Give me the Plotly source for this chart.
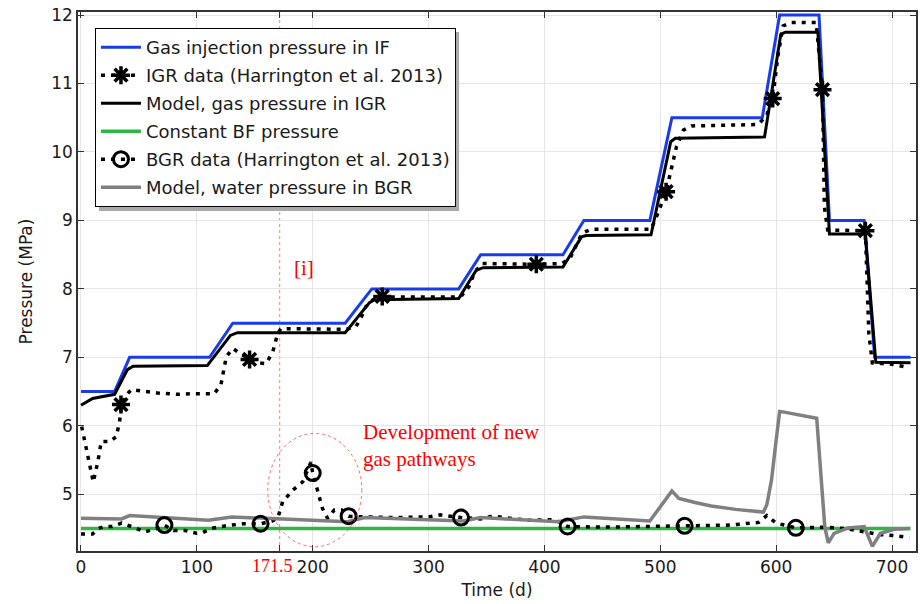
import plotly.graph_objects as go

# ---- Gas injection pressure in the injection filter (IF) ----
if_t = [0, 29, 42, 111, 131, 228, 251, 326, 345, 416, 434, 491, 510, 588, 603, 637, 646, 676, 685, 716]
if_p = [6.5, 6.5, 7.0, 7.0, 7.5, 7.5, 8.0, 8.0, 8.5, 8.5, 9.0, 9.0, 10.5, 10.5, 12.0, 12.0, 9.0, 9.0, 7.0, 7.0]

# ---- IGR measurements (continuous record + highlighted points) ----
igr_t = [0.6, 4.6, 7.5, 10.6, 14.6, 17.5, 24.7, 30.4, 33.3, 35, 38, 43.5, 66, 83.5, 98, 115, 120.8, 125.4,
         131, 142.6, 145.5, 152, 159.8, 165.5, 169.8, 172.6, 200, 228.6, 237.3, 241.5, 245.8, 252, 260,
         290, 323.3, 329, 334.8, 340, 346, 393, 415, 422.2, 426.6, 432.3, 440, 492, 498, 505, 514, 520,
         527, 560, 584, 591.5, 597, 601.5, 606, 613, 634.5, 640, 641.6, 644.5, 673, 677, 680, 683, 700, 715]
igr_p = [5.99, 5.65, 5.43, 5.18, 5.48, 5.77, 5.77, 5.84, 6.06, 6.30, 6.43, 6.53, 6.48, 6.46, 6.47, 6.47, 6.60, 7.01,
         7.13, 7.01, 6.97, 6.92, 6.91, 7.08, 7.35, 7.42, 7.41, 7.41, 7.45, 7.57, 7.74, 7.84, 7.88,
         7.88, 7.88, 7.91, 8.03, 8.25, 8.37, 8.36, 8.37, 8.45, 8.62, 8.81, 8.87, 8.87, 9.11, 9.42, 10.08, 10.32,
         10.38, 10.39, 10.40, 10.52, 10.78, 11.40, 11.84, 11.89, 11.89, 10.91, 9.20, 8.86, 8.86, 8.85, 7.35, 6.92, 6.90, 6.85]
igr_mark_t = [34.5, 145.5, 260, 393, 505, 597, 640, 677]
igr_mark_p = [6.31, 6.97, 7.89, 8.36, 9.42, 10.78, 10.91, 8.85]

# ---- Model: gas pressure in IGR ----
mod_igr_t = [0, 10, 29, 40, 45, 109, 129, 135, 228, 249, 253, 326, 341, 347, 416, 432, 436, 492, 509, 513,
             590, 604, 608, 636, 646, 677, 686, 716]
mod_igr_p = [6.30, 6.40, 6.46, 6.82, 6.87, 6.88, 7.32, 7.36, 7.36, 7.80, 7.84, 7.86, 8.27, 8.31, 8.32, 8.76, 8.78, 8.79,
             10.15, 10.20, 10.22, 11.72, 11.75, 11.75, 8.80, 8.80, 6.93, 6.92]

# ---- Constant backfill (BF) pressure ----
bf_t = [0, 716]
bf_p = [4.5, 4.5]

# ---- BGR measurements (continuous record + highlighted points) ----
bgr_t = [0, 10, 15, 20, 27, 35, 45, 55, 65, 72, 80, 90, 100, 105, 112, 125, 140, 155, 165, 169.8, 174, 182.7,
         191.3, 198.5, 200, 204, 205.7, 208.5, 212.8, 218.6, 225, 231, 245, 270, 300, 310, 328, 345, 355,
         386, 409, 420, 450, 500, 521, 560, 585, 592, 600, 617, 640, 660, 680, 690, 700, 715]
bgr_p = [4.42, 4.42, 4.50, 4.53, 4.53, 4.58, 4.52, 4.45, 4.50, 4.55, 4.47, 4.47, 4.43, 4.44, 4.50, 4.54, 4.57, 4.57,
         4.61, 4.65, 4.89, 5.06, 5.18, 5.47, 5.31, 5.06, 4.94, 4.79, 4.65, 4.77, 4.77, 4.68, 4.67, 4.66, 4.67,
         4.70, 4.66, 4.64, 4.68, 4.62, 4.63, 4.53, 4.52, 4.53, 4.54, 4.55, 4.59, 4.69, 4.58, 4.51, 4.52, 4.50,
         4.44, 4.41, 4.40, 4.37]
bgr_mark_t = [72, 155, 200, 231, 328, 420, 521, 617]
bgr_mark_p = [4.55, 4.57, 5.31, 4.68, 4.66, 4.53, 4.54, 4.51]

# ---- Model: water pressure in BGR ----
mod_bgr_t = [0, 35, 42, 110, 130, 230, 245, 330, 345, 412, 434, 491, 510, 516, 530, 544, 565, 589, 592, 596,
             600, 603, 607, 635, 642, 645, 650, 662, 676, 683, 690, 702, 715]
mod_bgr_p = [4.65, 4.64, 4.69, 4.62, 4.67, 4.60, 4.66, 4.61, 4.66, 4.60, 4.67, 4.61, 5.05, 4.94, 4.88, 4.83, 4.78,
             4.74, 4.85, 5.21, 5.79, 6.21, 6.20, 6.11, 4.52, 4.29, 4.43, 4.51, 4.53, 4.24, 4.43, 4.49, 4.50]

x_ticks = [0, 100, 200, 300, 400, 500, 600, 700]
y_ticks = [5, 6, 7, 8, 9, 10, 11, 12]
t_event = 171.5


def separated(xs, ys):
    """Interleave None so that each point stands alone (markers only, no joining segments)."""
    ox, oy = [], []
    for a, b in zip(xs, ys):
        ox += [a, None]
        oy += [b, None]
    return ox[:-1], oy[:-1]


BLUE = "rgb(25,60,235)"
GREEN = "rgb(45,185,65)"
GRAY = "rgb(128,128,128)"
DOTS = "4px,6px"
FONT = "DejaVu Sans"
SERIF = "Liberation Serif"

fig = go.Figure()

fig.add_trace(go.Scatter(x=bf_t, y=bf_p, mode="lines", name="Constant BF pressure", legendgroup="bf",
                         line=dict(color=GREEN, width=3.5), legendrank=4))
fig.add_trace(go.Scatter(x=bgr_t, y=bgr_p, mode="lines", showlegend=False, legendgroup="bgr",
                         line=dict(color="black", width=3.5, dash=DOTS)))
fig.add_trace(go.Scatter(x=mod_bgr_t, y=mod_bgr_p, mode="lines", name="Model, water pressure in BGR",
                         legendgroup="mbgr", line=dict(color=GRAY, width=3.5), legendrank=6))
bx, by = separated(bgr_mark_t, bgr_mark_p)
fig.add_trace(go.Scatter(x=bx, y=by, mode="lines+markers", name="BGR data (Harrington et al. 2013)",
                         legendgroup="bgr", connectgaps=False,
                         line=dict(color="black", width=3.5, dash=DOTS),
                         marker=dict(symbol="circle-open", size=15, color="black",
                                     line=dict(color="black", width=3)),
                         legendrank=5))

fig.add_trace(go.Scatter(x=if_t, y=if_p, mode="lines", name="Gas injection pressure in IF", legendgroup="if",
                         line=dict(color=BLUE, width=3), legendrank=1))
fig.add_trace(go.Scatter(x=igr_t, y=igr_p, mode="lines", showlegend=False, legendgroup="igr",
                         line=dict(color="black", width=3.5, dash=DOTS)))
fig.add_trace(go.Scatter(x=mod_igr_t, y=mod_igr_p, mode="lines", name="Model, gas pressure in IGR",
                         legendgroup="migr", line=dict(color="black", width=3), legendrank=3))
ix, iy = separated(igr_mark_t, igr_mark_p)
fig.add_trace(go.Scatter(x=ix, y=iy, mode="lines+markers", name="IGR data (Harrington et al. 2013)",
                         legendgroup="igr", connectgaps=False,
                         line=dict(color="black", width=3.5, dash=DOTS),
                         marker=dict(symbol="asterisk-open", size=15, color="black",
                                     line=dict(color="black", width=3.5)),
                         legendrank=2))

# Event marker: vertical dotted line and the circled zone of new pathways
fig.add_shape(type="line", xref="x", yref="paper", x0=t_event, x1=t_event, y0=0, y1=1,
              line=dict(color="rgba(255,90,90,0.8)", width=1, dash="dot"), layer="below")
fig.add_shape(type="circle", xref="x", yref="y", x0=161.2, x1=242.4, y0=4.235, y1=5.89,
              line=dict(color="rgba(255,70,70,0.8)", width=1, dash="dot"))

# Legend drop shadow
fig.add_shape(type="rect", xref="paper", yref="paper",
              x0=(99 - 78) / 840, x1=(460 - 78) / 840,
              y0=1 - (211 - 12) / 539, y1=1 - (32 - 12) / 539,
              line=dict(width=0), fillcolor="rgb(170,170,170)", layer="above")

fig.add_annotation(x=t_event, xref="x", y=0, yref="paper", yshift=-15, xshift=-7,
                   text=str(t_event), showarrow=False, yanchor="middle",
                   font=dict(family=SERIF, size=18, color="red"))
fig.add_annotation(x=t_event, xref="x", y=8.30, yref="y", xshift=12, xanchor="left",
                   text="[i]", showarrow=False, font=dict(family=SERIF, size=21, color="red"))
fig.add_annotation(x=242, xref="x", y=5.72, yref="y", xanchor="left", align="left",
                   text="Development of new<br>gas pathways", showarrow=False,
                   font=dict(family=SERIF, size=21, color="red"))

axis_common = dict(showline=True, linecolor="#333", linewidth=1.5, mirror="allticks",
                   ticks="inside", ticklen=6, tickwidth=1, tickcolor="#333",
                   showgrid=True, gridcolor="#e6e6e6", gridwidth=1, zeroline=False,
                   tickfont=dict(family=FONT, size=17, color="#1a1a1a"))

fig.update_xaxes(range=[-2.58, 720.7], tickvals=x_ticks, ticktext=[str(v) for v in x_ticks],
                 title=dict(text="Time (d)", font=dict(family=FONT, size=17, color="#1a1a1a"), standoff=8),
                 minor=dict(tickvals=[t_event], ticks="inside", ticklen=6, tickcolor="#333", showgrid=False),
                 **axis_common)
fig.update_yaxes(range=[4.172, 12.044], tickvals=y_ticks, ticktext=[str(v) for v in y_ticks],
                 title=dict(text="Pressure (MPa)", font=dict(family=FONT, size=17, color="#1a1a1a"), standoff=14),
                 **axis_common)

fig.update_layout(
    width=923, height=604,
    margin=dict(l=78, r=5, t=12, b=53),
    paper_bgcolor="white", plot_bgcolor="white",
    font=dict(family=FONT, size=17, color="#1a1a1a"),
    legend=dict(x=(95 - 78) / 840, y=1 - (28 - 12) / 539, xanchor="left", yanchor="top",
                bgcolor="white", bordercolor="black", borderwidth=1,
                font=dict(family=FONT, size=18, color="#1a1a1a"),
                traceorder="grouped", tracegroupgap=1.6, itemwidth=40),
    showlegend=True,
)

fig.write_html("out.html")
